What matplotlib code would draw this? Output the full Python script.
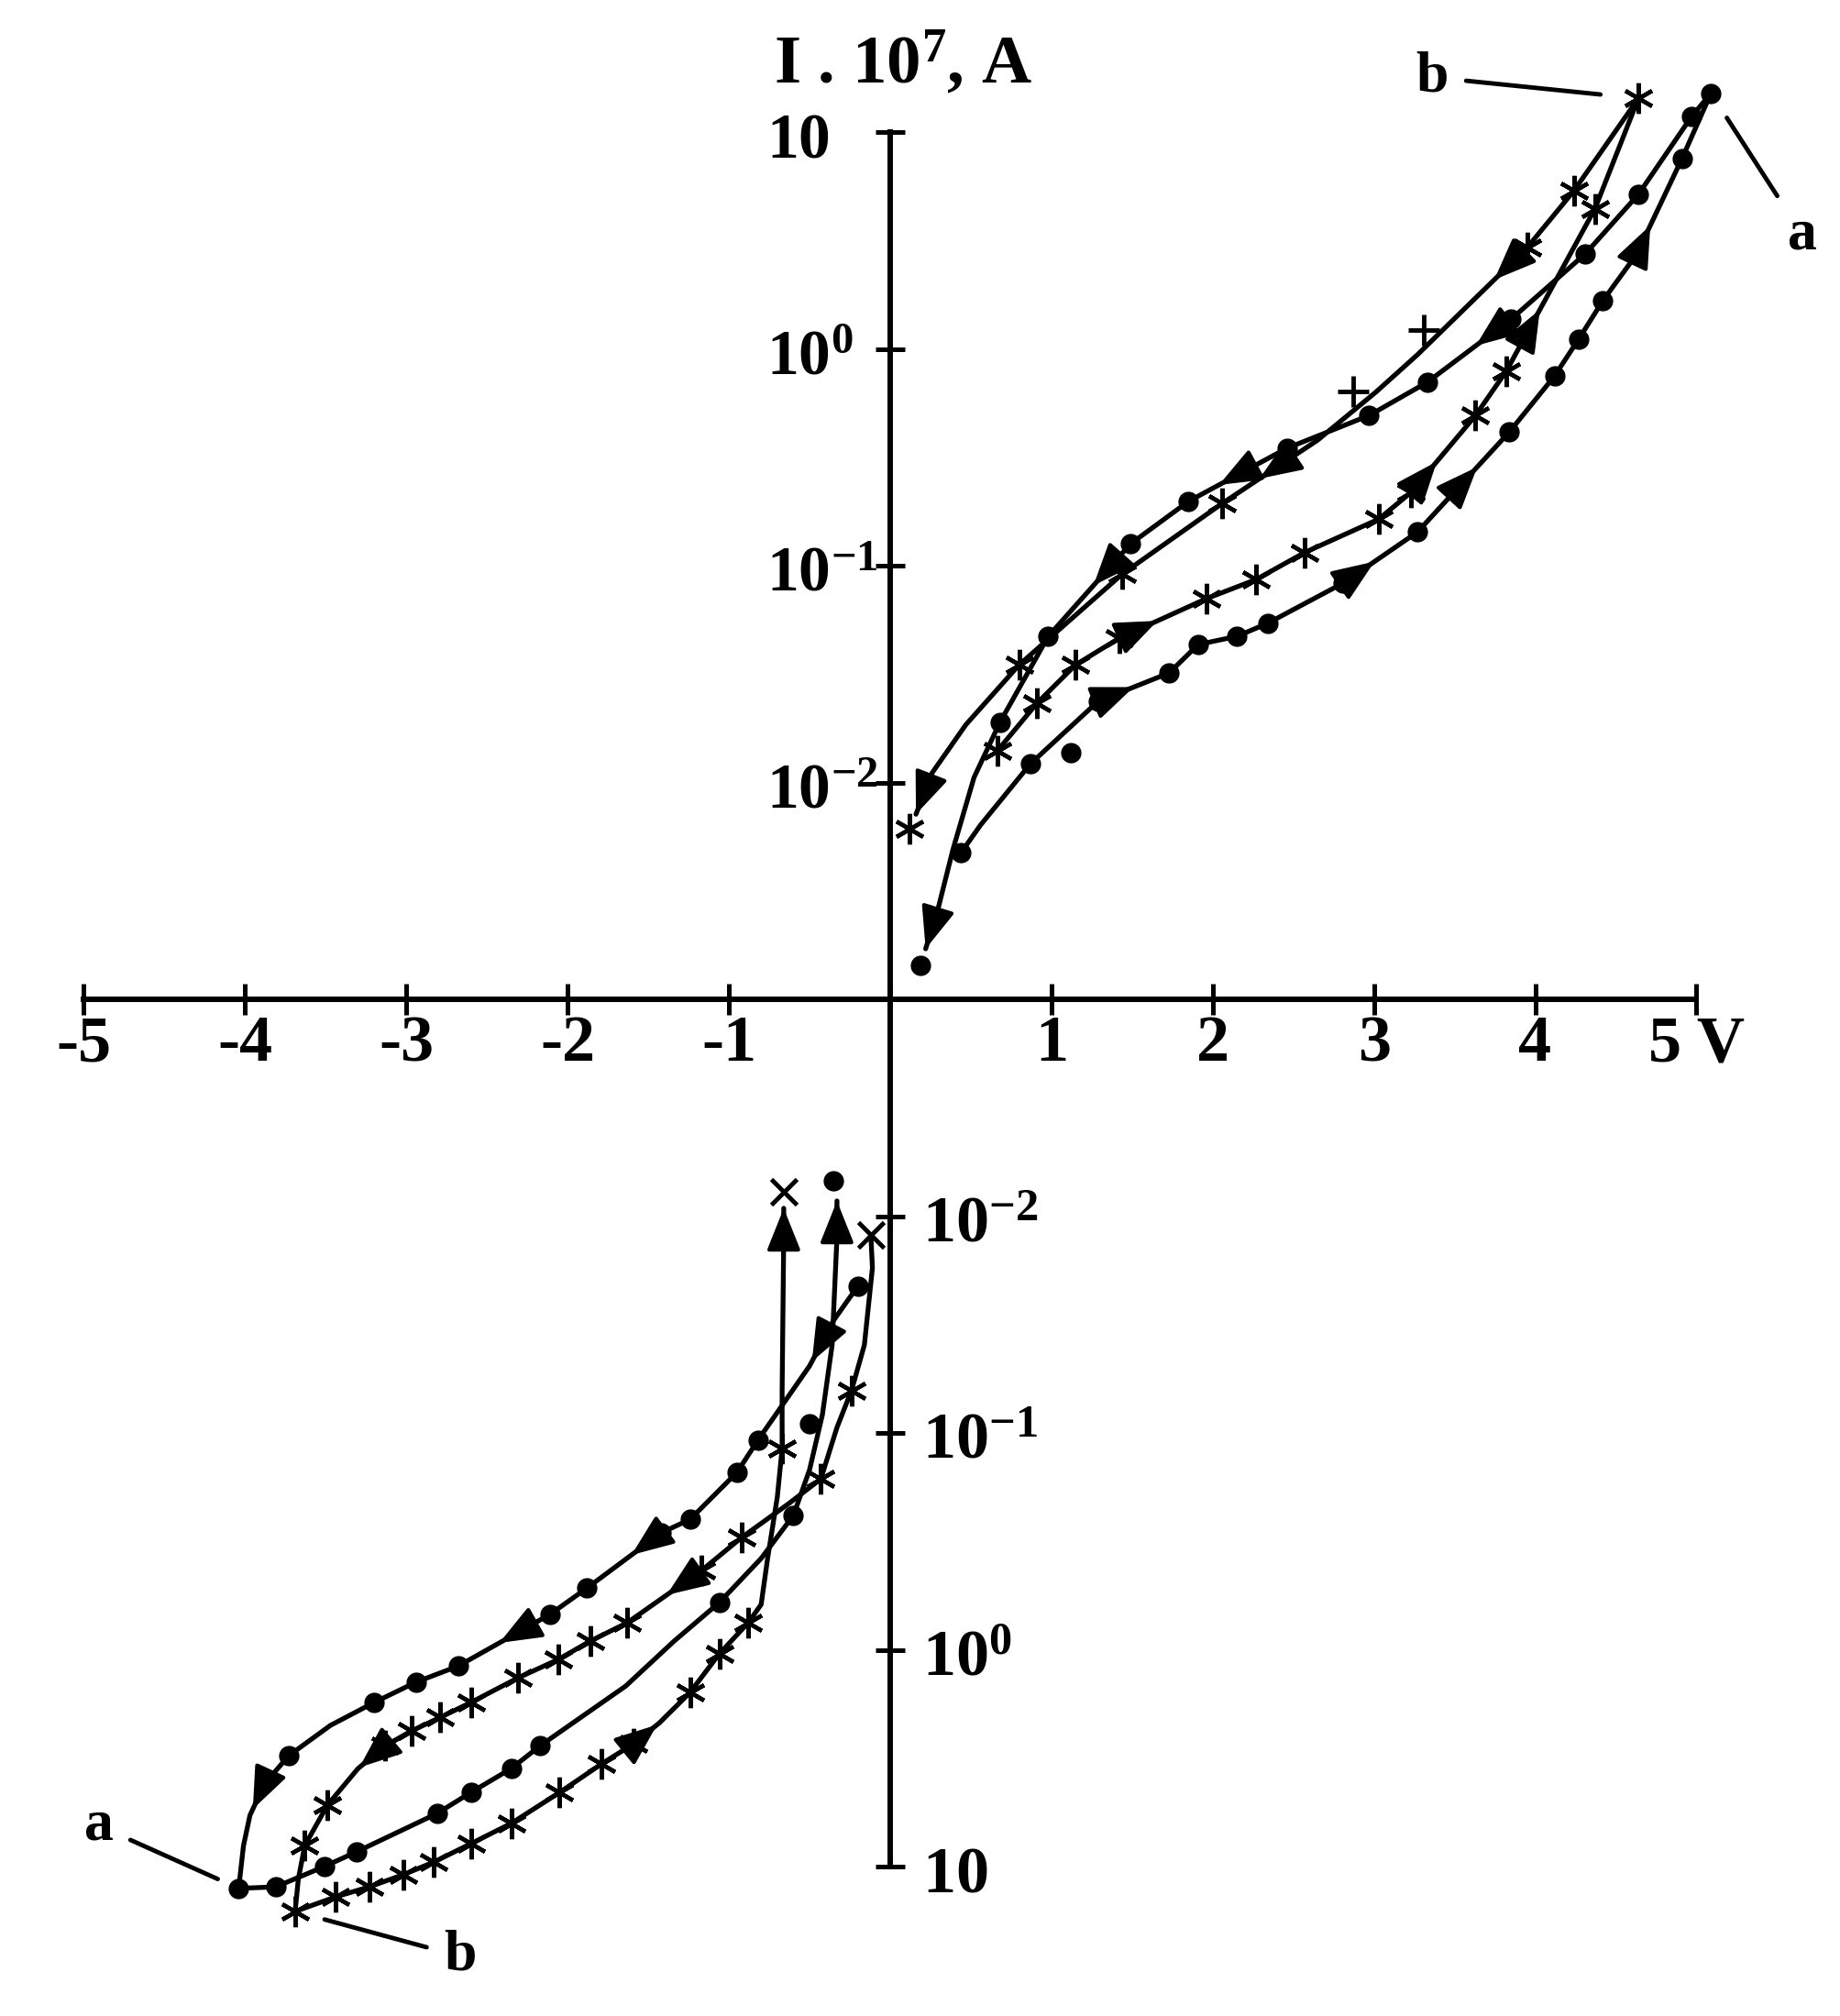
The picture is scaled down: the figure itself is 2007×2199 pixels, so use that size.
import numpy as np
import matplotlib.pyplot as plt
from matplotlib import transforms

plt.rcParams['font.family'] = ['Liberation Serif', 'DejaVu Serif']
plt.rcParams['font.weight'] = 'bold'
plt.rcParams['mathtext.fontset'] = 'custom'
plt.rcParams['mathtext.rm'] = 'Liberation Serif:bold'
plt.rcParams['mathtext.it'] = 'Liberation Serif:bold'
plt.rcParams['mathtext.bf'] = 'Liberation Serif:bold'

# V in volts, I in units of 1e-7 A (magnitude for the negative branch)
# ---- positive bias, sample a (dots) ----
a_pf_V = [0.44, 0.56, 0.87, 1.29, 1.73, 1.91, 2.15, 2.34, 2.81, 3.27, 3.84, 4.12, 4.27, 4.42, 4.63, 4.91, 5.09]
a_pf_I = [0.00475, 0.00636, 0.0122, 0.0237, 0.0320, 0.0433, 0.0472, 0.0542, 0.0832, 0.143, 0.414, 0.750, 1.11, 1.67, 2.74, 7.54, 15.1]
a_pf_pts_V = [0.44, 0.87, 1.12, 1.29, 1.73, 1.91, 2.15, 2.34, 2.81, 3.27, 3.84, 4.12, 4.27, 4.42, 4.63, 4.91, 5.09]
a_pf_pts_I = [0.00475, 0.0122, 0.0137, 0.0237, 0.0320, 0.0433, 0.0472, 0.0542, 0.0832, 0.143, 0.414, 0.750, 1.11, 1.67, 2.74, 7.54, 15.1]

a_pr_V = [5.09, 4.97, 4.64, 4.31, 3.85, 3.33, 2.97, 2.46, 1.85, 1.49, 0.98, 0.68, 0.52, 0.39, 0.30, 0.22]
a_pr_I = [15.1, 11.8, 5.16, 2.74, 1.37, 0.701, 0.493, 0.348, 0.198, 0.126, 0.0472, 0.0189, 0.01055, 0.00493, 0.00267, 0.00171]
a_pr_pts_V = [4.97, 4.64, 4.31, 3.85, 3.33, 2.97, 2.46, 1.85, 1.49, 0.98, 0.68, 0.19]
a_pr_pts_I = [11.8, 5.16, 2.74, 1.37, 0.701, 0.493, 0.348, 0.198, 0.126, 0.0472, 0.0189, 0.00143]

# ---- positive bias, sample b (stars) ----
b_pf_V = [0.665, 0.91, 1.15, 1.42, 1.96, 2.27, 2.57, 3.03, 3.23, 3.63, 3.82, 4.37, 4.64]
b_pf_I = [0.0140, 0.0232, 0.0349, 0.0463, 0.0704, 0.0864, 0.115, 0.164, 0.218, 0.493, 0.788, 4.42, 14.3]

b_pr_V = [4.64, 4.24, 3.95, 3.27, 3.01, 2.65, 2.06, 1.44, 0.80, 0.47, 0.26, 0.16]
b_pr_I = [14.3, 5.36, 2.93, 0.94, 0.63, 0.379, 0.194, 0.0916, 0.0349, 0.0185, 0.01107, 0.00714]
b_pr_pts_V = [4.24, 3.95, 2.06, 1.44, 0.80, 0.12]
b_pr_pts_I = [5.36, 2.93, 0.194, 0.0916, 0.0349, 0.00611]
b_pr_plus_V = [3.31, 2.87]
b_pr_plus_I = [1.22, 0.636]

# ---- negative bias, sample a (dots) ----
a_nr_V = [-0.20, -0.35, -0.50, -0.82, -0.95, -1.24, -1.42, -1.88, -2.11, -2.68, -2.94, -3.20, -3.47, -3.73, -3.88, -3.97, -4.01, -4.04]
a_nr_I = [0.0210, 0.0302, 0.0491, 0.108, 0.152, 0.250, 0.289, 0.519, 0.687, 1.19, 1.41, 1.75, 2.23, 3.08, 4.16, 5.80, 8.0, 12.6]
a_nr_pts_V = [-0.20, -0.82, -0.95, -1.24, -1.42, -1.88, -2.11, -2.68, -2.94, -3.20, -3.73, -4.04]
a_nr_pts_I = [0.0210, 0.108, 0.152, 0.250, 0.289, 0.519, 0.687, 1.19, 1.41, 1.75, 3.08, 12.6]

a_nf_V = [-4.04, -3.81, -3.51, -3.31, -2.81, -2.60, -2.35, -2.17, -1.64, -1.34, -1.06, -0.80, -0.60, -0.50, -0.42, -0.36, -0.33, -0.33]
a_nf_I = [12.6, 12.4, 10.0, 8.55, 5.69, 4.55, 3.53, 2.77, 1.47, 0.912, 0.606, 0.379, 0.240, 0.148, 0.0822, 0.0393, 0.01257, 0.00851]
a_nf_pts_V = [-3.81, -3.51, -3.31, -2.81, -2.60, -2.35, -2.17, -1.06, -0.60, -0.50, -0.35]
a_nf_pts_I = [12.4, 10.0, 8.55, 5.69, 4.55, 3.53, 2.77, 0.606, 0.240, 0.0908, 0.00687]

# ---- negative bias, sample b (stars) ----
b_nr_V = [-0.12, -0.11, -0.16, -0.24, -0.33, -0.43, -0.63, -0.92, -1.17, -1.63, -1.86, -2.06, -2.31, -2.60, -2.79, -2.97, -3.13, -3.30, -3.49, -3.63, -3.67, -3.69]
b_nr_I = [0.0122, 0.0173, 0.0393, 0.0638, 0.0944, 0.163, 0.212, 0.303, 0.431, 0.750, 0.912, 1.11, 1.35, 1.75, 2.05, 2.37, 2.77, 3.53, 5.21, 8.0, 11.4, 16.1]
b_nr_pts_V = [-0.24, -0.43, -0.92, -1.17, -1.63, -1.86, -2.06, -2.31, -2.60, -2.79, -2.97, -3.13, -3.49, -3.63, -3.69]
b_nr_pts_I = [0.0638, 0.163, 0.303, 0.431, 0.750, 0.912, 1.11, 1.35, 1.75, 2.05, 2.37, 2.77, 5.21, 8.0, 16.1]

b_nf_V = [-3.69, -3.44, -3.23, -3.02, -2.83, -2.60, -2.35, -2.05, -1.79, -1.59, -1.43, -1.24, -1.06, -0.88, -0.80, -0.76, -0.70, -0.67, -0.67, -0.66, -0.66]
b_nf_I = [16.1, 13.8, 12.4, 10.9, 9.53, 7.84, 6.32, 4.55, 3.36, 2.71, 2.17, 1.57, 1.045, 0.750, 0.618, 0.379, 0.198, 0.118, 0.0638, 0.01257, 0.0092]
b_nf_pts_V = [-3.44, -3.23, -3.02, -2.83, -2.60, -2.35, -2.05, -1.79, -1.59, -1.24, -1.06, -0.88, -0.67]
b_nf_pts_I = [13.8, 12.4, 10.9, 9.53, 7.84, 6.32, 4.55, 3.36, 2.71, 1.57, 1.045, 0.750, 0.118]

top_x_V = [-0.12, -0.66]
top_x_I = [0.0122, 0.00773]

x_ticks = [-5, -4, -3, -2, -1, 1, 2, 3, 4, 5]
x_labels = ['-5', '-4', '-3', '-2', '-1', '1', '2', '3', '4', '5 V']
up_ticks = [4, 3, 2, 1]
up_labels = [r'$10$', r'$10^{0}$', r'$10^{-1}$', r'$10^{-2}$']
lo_ticks = [-1, -2, -3, -4]
lo_labels = [r'$10^{-2}$', r'$10^{-1}$', r'$10^{0}$', r'$10$']


def up(I):
    # upper half: decades above 1e-3
    return np.log10(I) + 3


def lo(I):
    # lower half mirrored downward
    return -(np.log10(I) + 3)


fig = plt.figure(figsize=(20.07, 21.99), dpi=100)
ax = fig.add_axes([0, 0, 1, 1])
ax.set_xlim(-5.52, 5.89)
ax.set_ylim(-4.689, 4.609)

LW = 3.8
line_kw = dict(color='k', lw=LW, solid_capstyle='round', solid_joinstyle='round', zorder=2)
dot_kw = dict(ls='none', marker='o', ms=15, color='k', zorder=3)
star_kw = dict(ls='none', marker=(6, 2, 0), ms=24, mew=3.2, color='k', zorder=3)


def arrows(V, Y, spec):
    for k, t in spec:
        x1 = V[k] + t * (V[k + 1] - V[k])
        y1 = Y[k] + t * (Y[k + 1] - Y[k])
        ax.annotate('', xy=(x1, y1), xytext=(V[k], Y[k]),
                    arrowprops=dict(arrowstyle='-|>,head_length=1.5,head_width=0.6',
                                    mutation_scale=19, lw=3, color='k',
                                    shrinkA=0, shrinkB=0), zorder=4)


# positive quadrant
y = up(np.array(a_pf_I)); ax.plot(a_pf_V, y, **line_kw)
arrows(a_pf_V, y, [(3, 0.5), (8, 0.42), (9, 0.65), (14, 0.3)])
ax.plot(a_pf_pts_V, up(np.array(a_pf_pts_I)), **dot_kw)

y = up(np.array(a_pr_I)); ax.plot(a_pr_V, y, **line_kw)
arrows(a_pr_V, y, [(4, 0.42), (7, 0.69), (9, 0.45), (14, 1.0)])
ax.plot(a_pr_pts_V, up(np.array(a_pr_pts_I)), **dot_kw)

y = up(np.array(b_pf_I)); ax.plot(b_pf_V, y, **line_kw)
arrows(b_pf_V, y, [(3, 0.44), (8, 0.4), (10, 0.38)])
ax.plot(b_pf_V, y, **star_kw)

y = up(np.array(b_pr_I)); ax.plot(b_pr_V, y, **line_kw)
arrows(b_pr_V, y, [(2, 0.3), (5, 0.61), (10, 1.0)])
ax.plot(b_pr_pts_V, up(np.array(b_pr_pts_I)), **star_kw)
ax.plot(b_pr_plus_V, up(np.array(b_pr_plus_I)), ls='none', marker='+', ms=24, mew=3.5, color='k', zorder=3)

# negative quadrant
y = lo(np.array(a_nr_I)); ax.plot(a_nr_V, y, **line_kw)
arrows(a_nr_V, y, [(1, 0.9), (6, 0.4), (8, 0.55), (14, 0.8)])
ax.plot(a_nr_pts_V, lo(np.array(a_nr_pts_I)), **dot_kw)

y = lo(np.array(a_nf_I)); ax.plot(a_nf_V, y, **line_kw)
arrows(a_nf_V, y, [(16, 1.0)])
ax.plot(a_nf_pts_V, lo(np.array(a_nf_pts_I)), **dot_kw)

y = lo(np.array(b_nr_I)); ax.plot(b_nr_V, y, **line_kw)
arrows(b_nr_V, y, [(8, 0.47), (16, 0.95)])
ax.plot(b_nr_pts_V, lo(np.array(b_nr_pts_I)), **star_kw)

y = lo(np.array(b_nf_I)); ax.plot(b_nf_V, y, **line_kw)
arrows(b_nf_V, y, [(9, 0.9), (19, 1.0)])
ax.plot(b_nf_pts_V, lo(np.array(b_nf_pts_I)), **star_kw)

ax.plot(top_x_V, lo(np.array(top_x_I)), ls='none', marker='x', ms=20, mew=3.5, color='k', zorder=3)

# axes through the origin
for s in ['top', 'right']:
    ax.spines[s].set_visible(False)
ax.spines['left'].set_position(('data', 0))
ax.spines['bottom'].set_position(('data', 0))
ax.spines['left'].set_bounds(-4, 4)
ax.spines['bottom'].set_bounds(-5, 5)
for s in ['left', 'bottom']:
    ax.spines[s].set_linewidth(4.3)

ax.set_xticks(x_ticks)
ax.set_xticklabels(x_labels, fontsize=52, fontweight='bold')
ax.tick_params(axis='x', direction='inout', length=25, width=3.6, pad=0)
ax.set_yticks(up_ticks + lo_ticks)
ax.tick_params(axis='y', direction='inout', length=23, width=3.6, labelleft=False)

lab_up = transforms.offset_copy(ax.transData, fig=fig, x=-97, y=-20, units='points')
lab_lo = transforms.offset_copy(ax.transData, fig=fig, x=25, y=-20, units='points')
for t, s in zip(up_ticks, up_labels):
    ax.text(0, t, s, transform=lab_up, fontsize=50, ha='left', va='baseline')
for t, s in zip(lo_ticks, lo_labels):
    ax.text(0, t, s, transform=lab_lo, fontsize=52, ha='left', va='baseline')

fig.text(0.491, 1 - 91 / 2199, r'I . 10$^{7}$, A', fontsize=54, fontweight='bold',
         ha='center', va='baseline')

# curve labels
lead = dict(arrowstyle='-', lw=3.5, color='k')
ax.annotate('b', xy=(b_pf_V[-1], up(b_pf_I[-1])), xytext=(-225, 23), textcoords='offset pixels',
            fontsize=46, ha='center', va='center',
            arrowprops=dict(shrinkA=12, shrinkB=30, **lead))
ax.annotate('a', xy=(a_pf_V[-1], up(a_pf_I[-1])), xytext=(100, -155), textcoords='offset pixels',
            fontsize=46, ha='center', va='center',
            arrowprops=dict(shrinkA=12, shrinkB=23, **lead))
ax.annotate('a', xy=(a_nr_V[-1], lo(a_nr_I[-1])), xytext=(-152, 68), textcoords='offset pixels',
            fontsize=46, ha='center', va='center',
            arrowprops=dict(shrinkA=12, shrinkB=18, **lead))
ax.annotate('b', xy=(b_nr_V[-1], lo(b_nr_I[-1])), xytext=(180, -49), textcoords='offset pixels',
            fontsize=46, ha='center', va='center',
            arrowprops=dict(shrinkA=12, shrinkB=24, **lead))

fig.savefig('out.png', dpi=100)
